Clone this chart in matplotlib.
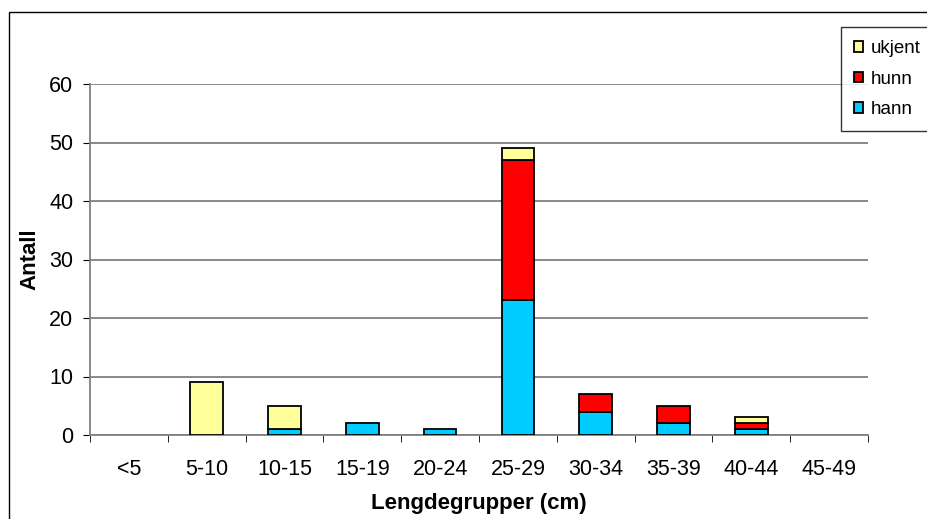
import numpy as np
import matplotlib
matplotlib.use("Agg")
from matplotlib import pyplot as plt
from matplotlib.patches import Rectangle

plt.rcParams["font.family"] = ["Liberation Sans", "DejaVu Sans"]

grupper = ["<5", "5-10", "10-15", "15-19", "20-24", "25-29", "30-34", "35-39", "40-44", "45-49"]
hann = [0, 0, 1, 2, 1, 23, 4, 2, 1, 0]
hunn = [0, 0, 0, 0, 0, 24, 3, 3, 1, 0]
ukjent = [0, 9, 4, 0, 0, 2, 0, 0, 1, 0]

farger = {"hann": "#00ccff", "hunn": "#ff0000", "ukjent": "#ffff99"}

fig = plt.figure(figsize=(9.28, 5.19), dpi=100)
fig.patches.append(Rectangle((9 / 928, -0.01), 1.0, 1 - 12 / 519 + 0.01,
                             transform=fig.transFigure, fill=False,
                             edgecolor="black", linewidth=1.0))
ax = fig.add_axes([90 / 928, 1 - 435 / 519, (868 - 90) / 928, (435 - 84) / 519])

x = np.arange(len(grupper))
bredde = 0.42
hann_a = np.array(hann)
hunn_a = np.array(hunn)
ukjent_a = np.array(ukjent)

serier = [("hann", hann_a, np.zeros(len(x))),
          ("hunn", hunn_a, hann_a),
          ("ukjent", ukjent_a, hann_a + hunn_a)]
for navn, verdier, bunn in serier:
    maske = verdier > 0
    ax.bar(x[maske], verdier[maske], bredde, bottom=bunn[maske],
           color=farger[navn], edgecolor="black", linewidth=1.3,
           label=navn, zorder=3)

ax.set_xlim(-0.5, len(grupper) - 0.5)
ax.set_ylim(0, 60)
ax.set_yticks(np.arange(0, 61, 10))
ax.set_xticks(x)
ax.set_xticklabels(grupper)
ax.set_xticks(np.arange(-0.5, len(grupper)), minor=True)
ax.tick_params(axis="x", which="major", length=0, pad=17, labelsize=15.5)
ax.tick_params(axis="x", which="minor", length=5, direction="out", color="black")
ax.tick_params(axis="y", length=5, direction="out", color="black", labelsize=15.5, pad=7)

ax.grid(axis="y", color="#808080", linewidth=1.3, zorder=0)
for side in ["top", "right"]:
    ax.spines[side].set_visible(False)
ax.spines["left"].set_color("#808080")
ax.spines["bottom"].set_color("#808080")
ax.spines["left"].set_linewidth(1.3)
ax.spines["bottom"].set_linewidth(1.3)

ax.set_ylabel("Antall", fontweight="bold", fontsize=16, labelpad=6)
ax.set_xlabel("Lengdegrupper (cm)", fontweight="bold", fontsize=16, labelpad=10)

handles, labels = ax.get_legend_handles_labels()
leg = fig.legend(handles[::-1], labels[::-1], loc="upper left",
                 bbox_to_anchor=(841 / 928, 1 - 27 / 519), fontsize=13.5,
                 frameon=True, fancybox=False, edgecolor="black",
                 handlelength=0.5, handleheight=0.5, handletextpad=0.4,
                 labelspacing=0.72, borderpad=0.7, borderaxespad=0)
leg.get_frame().set_linewidth(1.0)

fig.savefig("out.png", dpi=100)
